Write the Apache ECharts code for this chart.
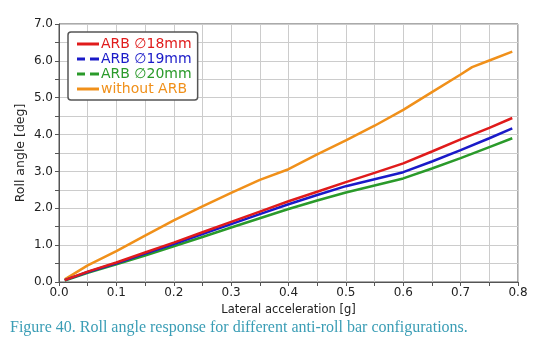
<!DOCTYPE html>
<html lang="en">
<head>
    <meta charset="UTF-8">
    <title>Roll angle</title>
    <script src="https://cdn.jsdelivr.net/npm/echarts@6/dist/echarts.min.js"></script>
    <style>
        html, body { margin: 0; padding: 0; background: #fff; }
        #chart { width: 545px; height: 354px; }
    </style>
</head>
<body>
<div id="chart"></div>
<script>
    // lateral acceleration [g]
    var accel = [0.01, 0.05, 0.1, 0.15, 0.2, 0.25, 0.3, 0.35, 0.4, 0.45, 0.5, 0.55, 0.6, 0.65, 0.7, 0.75, 0.79];
    var accelNoArb = [0.01, 0.05, 0.1, 0.15, 0.2, 0.25, 0.3, 0.35, 0.4, 0.45, 0.5, 0.55, 0.6, 0.65, 0.7, 0.72, 0.75, 0.79];
    // roll angle [deg]
    var arb18 = [0.05, 0.28, 0.53, 0.80, 1.07, 1.35, 1.63, 1.91, 2.19, 2.45, 2.71, 2.96, 3.22, 3.54, 3.87, 4.18, 4.45];
    var arb19 = [0.05, 0.27, 0.51, 0.77, 1.03, 1.30, 1.57, 1.84, 2.11, 2.36, 2.60, 2.79, 2.98, 3.27, 3.58, 3.90, 4.17];
    var arb20 = [0.04, 0.25, 0.48, 0.72, 0.97, 1.22, 1.48, 1.73, 1.98, 2.21, 2.43, 2.62, 2.81, 3.08, 3.36, 3.66, 3.90];
    var noArb = [0.07, 0.45, 0.84, 1.26, 1.67, 2.05, 2.42, 2.77, 3.06, 3.46, 3.84, 4.24, 4.67, 5.15, 5.63, 5.83, 6.01, 6.25];

    var names = ['ARB \u220518mm', 'ARB \u220519mm', 'ARB \u220520mm', 'without ARB'];
    var colors = ['#e01b1b', '#1a1ac8', '#2a9a2a', '#f0901a'];

    var solidIcon = 'path://M0,0h22v3h-22z';
    var dashIcon = 'path://M0,0h8v3h-8z M13,0h9v3h-9z';

    function pairs(xs, ys) {
        var out = [];
        for (var i = 0; i < xs.length; i++) out.push([xs[i], ys[i]]);
        return out;
    }

    var chart = echarts.init(document.getElementById('chart'), null, {renderer: 'canvas'});
    var font = 'DejaVu Sans';

    function mkSeries(i, data) {
        return {
            name: names[i], type: 'line', data: data, symbol: 'none',
            lineStyle: {color: colors[i], width: 2.5}, itemStyle: {color: colors[i]},
            animation: false
        };
    }

    var option = {
        textStyle: {fontFamily: font},
        grid: {left: 59, right: 27, top: 24, bottom: 72, show: true, borderColor: '#555', borderWidth: 1},
        legend: {
            left: 68, top: 32, orient: 'vertical', itemGap: 1,
            itemWidth: 22, itemHeight: 3,
            padding: [5, 6, 4, 9],
            backgroundColor: '#fff', borderColor: '#555', borderWidth: 1.5, borderRadius: 3,
            data: [
                {name: names[0], icon: solidIcon, textStyle: {color: colors[0]}},
                {name: names[1], icon: dashIcon, textStyle: {color: colors[1]}},
                {name: names[2], icon: dashIcon, textStyle: {color: colors[2]}},
                {name: names[3], icon: solidIcon, textStyle: {color: colors[3]}}
            ],
            textStyle: {fontFamily: font, fontSize: 14, lineHeight: 14, padding: [0, 0, 0, -3]}
        },
        xAxis: {
            type: 'value', min: 0, max: 0.8, interval: 0.05,
            name: 'Lateral acceleration [g]', nameLocation: 'middle', nameGap: 20,
            nameTextStyle: {fontFamily: font, fontSize: 11.5, color: '#222'},
            axisLine: {lineStyle: {color: '#555'}},
            axisTick: {show: true, length: 4, lineStyle: {color: '#555'}},
            splitLine: {lineStyle: {color: '#ccc'}},
            axisLabel: {
                fontFamily: font, fontSize: 12, color: '#222', margin: 5,
                formatter: function (v) {
                    var k = Math.round(v * 100);
                    return k % 10 === 0 ? (k / 100).toFixed(1) : '';
                }
            }
        },
        yAxis: {
            type: 'value', min: 0, max: 7, interval: 0.5,
            name: 'Roll angle [deg]', nameLocation: 'middle', nameGap: 32, nameMoveOverlap: false,
            nameTextStyle: {fontFamily: font, fontSize: 12.5, color: '#222'},
            axisLine: {show: true, lineStyle: {color: '#555'}},
            axisTick: {show: true, length: 4, lineStyle: {color: '#555'}},
            splitLine: {lineStyle: {color: '#ccc'}},
            axisLabel: {
                fontFamily: font, fontSize: 12, color: '#222', margin: 6,
                formatter: function (v) {
                    var k = Math.round(v * 10);
                    return k % 10 === 0 ? (k / 10).toFixed(1) : '';
                }
            }
        },
        graphic: [{
            type: 'text', left: 10, top: 320,
            style: {
                text: 'Figure 40. Roll angle response for different anti-roll bar configurations.',
                fill: '#3a9db5', font: '16px "Liberation Serif"'
            }
        }],
        series: [
            mkSeries(3, pairs(accelNoArb, noArb)),
            mkSeries(2, pairs(accel, arb20)),
            mkSeries(1, pairs(accel, arb19)),
            mkSeries(0, pairs(accel, arb18))
        ]
    };
    chart.setOption(option);
</script>
</body>
</html>
